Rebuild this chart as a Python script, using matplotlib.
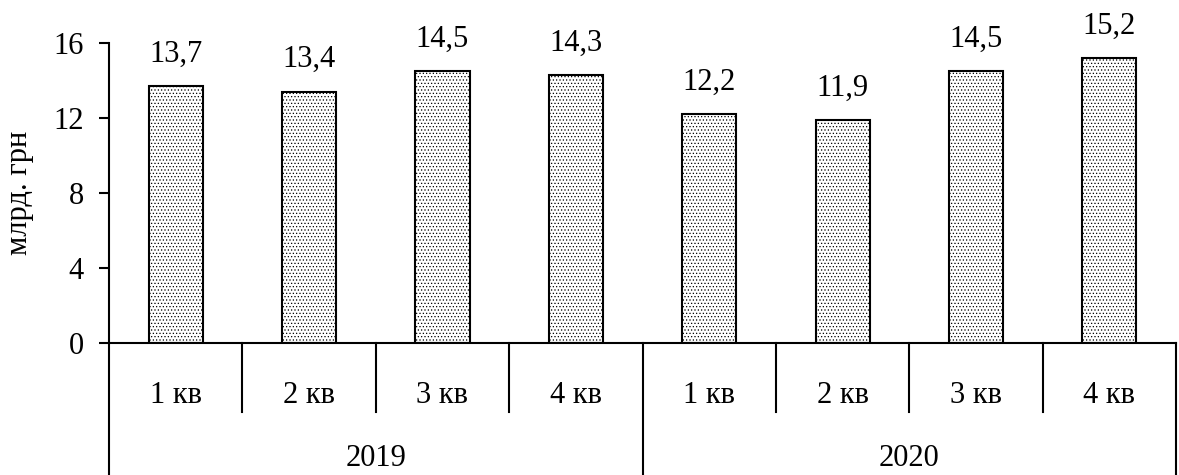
import numpy as np
import matplotlib.pyplot as plt

plt.rcParams['font.family'] = ['Liberation Serif', 'DejaVu Serif']
plt.rcParams['hatch.color'] = '#c4c4c4'
plt.rcParams['hatch.linewidth'] = 0.5

# quarterly values, bn UAH
quarters = ['1 кв', '2 кв', '3 кв', '4 кв', '1 кв', '2 кв', '3 кв', '4 кв']
years = ['2019', '2020']
values = [13.7, 13.4, 14.5, 14.3, 12.2, 11.9, 14.5, 15.2]

fig = plt.figure(figsize=(11.79, 4.75), dpi=100)
ax = fig.add_axes([0.0925, 0.278, 0.905, 0.6315])

x = np.arange(len(values))
ax.bar(x, values, width=0.405, color='white', edgecolor='black',
       linewidth=1.5, hatch='.....', zorder=2)

for xi, v in zip(x, values):
    ax.annotate(f'{v:.1f}'.replace('.', ','), (xi, v), xytext=(0, 23),
                textcoords='offset points', ha='center', va='center', fontsize=22)

ax.set_xlim(-0.5, len(values) - 0.5)
ax.set_ylim(0, 16)
ax.set_yticks([0, 4, 8, 12, 16])
ax.tick_params(axis='y', direction='out', length=7, width=1.5, labelsize=22, pad=11)
ax.set_xticks([])
ax.set_ylabel('млрд. грн', fontsize=22, labelpad=14)

for s in ['top', 'right']:
    ax.spines[s].set_visible(False)
ax.spines['left'].set_linewidth(1.5)
ax.spines['bottom'].set_linewidth(1.5)

# category table below the axis
tr = ax.get_xaxis_transform()
for b in np.arange(-0.5, len(values), 1.0):
    if b in (-0.5, 3.5, 7.5):
        y_end = -0.44
    else:
        y_end = -0.23
    ax.plot([b, b], [0, y_end], color='black', lw=1.5, transform=tr, clip_on=False)

for xi, q in zip(x, quarters):
    ax.text(xi, -0.176, q, transform=tr, ha='center', va='center', fontsize=22)

for i, yr in enumerate(years):
    ax.text(1.5 + 4 * i, -0.385, yr, transform=tr, ha='center', va='center', fontsize=22)

fig.savefig('out.png', dpi=100)
